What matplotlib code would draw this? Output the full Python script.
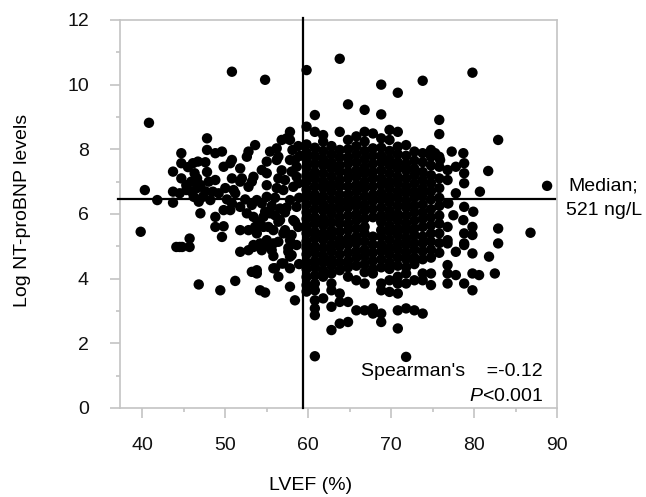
import numpy as np
import matplotlib
matplotlib.use('Agg')
import matplotlib.pyplot as plt

plt.rcParams['font.family'] = ['Liberation Sans', 'DejaVu Sans']
plt.rcParams['mathtext.fontset'] = 'custom'
plt.rcParams['mathtext.rm'] = 'Liberation Sans'
plt.rcParams['mathtext.it'] = 'Liberation Sans:italic'

# scattered patients, LVEF < 60 and the right-hand outliers
lvef_side = [39.8, 40.8, 40.3, 41.8, 50.8, 54.8,
             43.7, 43.7, 43.7, 44.7, 44.7, 44.7, 45.3, 46.1, 46.7, 46.3, 45.9, 46.6, 46.8, 45.9,
             47.8, 47.8, 47.6, 47.8, 48.0, 47.6, 48.8, 49.6, 49.8, 48.8, 48.5, 50.0, 50.8, 50.8,
             51.0, 49.8, 48.8, 49.8, 50.8,
             50.6, 51.8, 52.6, 53.6, 55.4, 56.2, 56.8, 57.4, 57.8, 58.1, 57.8, 58.4, 55.0, 54.4,
             53.4, 55.0, 51.8, 52.8, 51.2, 49.2, 48.2, 47.3, 46.2, 45.3, 44.5,
             47.0, 48.8, 50.6, 51.8, 52.6, 53.8, 55.0, 55.4, 56.6, 57.8, 57.0, 58.2, 58.6, 58.6,
             44.5, 45.7, 51.8, 52.8, 53.8, 55.0, 55.8, 54.2, 53.4,
             53.4, 54.6, 54.6, 55.8, 56.6, 57.0, 57.8, 58.2, 58.6, 58.8,
             46.8, 49.4, 51.2, 53.2, 53.8, 54.2, 54.8, 55.8, 56.4, 56.8, 57.8, 58.4, 57.8, 57.8,
             44.1, 44.8, 45.7, 51.8, 52.8, 54.7, 55.8, 49.6,
             52.0, 53.2, 55.0, 56.4, 57.2, 58.0,
             53.2, 54.4, 54.8, 56.0, 56.4, 55.2, 57.2, 58.0, 58.4, 53.6, 53.4, 54.4, 55.6, 56.4,
             57.6, 58.0, 58.6, 53.8, 56.0, 57.0, 57.8, 52.8, 56.4, 56.2,
             56.0, 57.4, 56.8, 58.8, 58.9, 59.0, 45.5, 46.6, 47.0,
             57.2, 58.8, 56.2, 55.6, 57.6, 58.9, 54.0, 52.4, 50.2,
             77.3, 78.7, 76.9, 77.5, 79.9, 78.7, 81.7, 80.7, 80.6, 81.8, 82.9, 82.9, 82.9,
             86.8, 88.8, 82.5, 79.8, 75.3, 75.9]
logbnp_side = [5.45, 8.82, 6.74, 6.43, 10.4, 10.15,
               6.69, 6.35, 7.31, 7.88, 7.57, 7.1, 6.74, 7.57, 7.62, 7.26, 7.0, 6.8, 6.38, 6.7,
               8.34, 7.98, 7.6, 7.3, 7.0, 6.7, 7.88, 7.93, 7.46, 7.05, 6.69, 6.8, 7.67, 7.1,
               6.74, 6.12, 5.91, 5.62, 6.33,
               7.57, 7.41, 7.77, 8.13, 7.93, 8.03, 8.29, 8.34, 8.54, 7.98, 7.67, 7.67, 7.62, 7.36,
               7.15, 7.26, 7.0, 6.84, 6.64, 6.64, 6.43, 6.53, 6.53, 6.89, 6.64,
               6.02, 5.6, 6.12, 6.22, 6.02, 6.43, 6.53, 6.02, 6.17, 6.43, 6.74, 6.84, 7.15, 7.46,
               4.98, 5.24, 5.5, 5.5, 5.4, 5.19, 5.09, 5.09, 5.04,
               5.91, 5.91, 5.6, 5.5, 5.81, 5.4, 5.19, 5.81, 6.22, 5.6,
               3.82, 3.64, 3.93, 4.21, 4.16, 3.64, 3.57, 4.32, 4.06, 4.47, 3.75, 3.33, 4.32, 4.68,
               4.98, 4.98, 4.98, 4.83, 4.88, 5.0, 4.7, 5.29,
               7.1, 7.0, 6.89, 7.1, 7.05, 7.31,
               6.28, 6.33, 6.07, 5.96, 5.76, 5.6, 5.5, 5.35, 5.76, 5.6, 4.98, 4.88, 4.88, 5.14,
               4.83, 4.73, 5.04, 4.26, 4.32, 4.47, 8.29, 7.93, 7.77, 7.67,
               6.5, 6.2, 7.35, 8.1, 6.5, 7.8, 7.45, 7.1, 6.9,
               6.05, 6.95, 6.8, 6.25, 4.95, 4.45, 5.75, 6.45, 6.45,
               7.93, 7.88, 6.33, 5.96, 6.07, 5.81, 7.33, 6.69, 4.11, 4.68, 8.29, 5.55, 5.09,
               5.42, 6.87, 4.16, 3.64, 7.88, 7.67]

# the dense block: LVEF columns and the NT-proBNP values stacked in each
blob_lvef = [59.8, 60.8, 61.8, 62.8, 63.8, 64.8, 65.8, 66.8, 67.8, 68.8, 69.8, 70.8,
             71.8, 72.8, 73.8, 74.8, 75.8, 76.8, 77.8, 78.8, 79.8]
blob_bnp = [
    [10.45, 8.7, 8.15, 7.9, 7.7, 7.45, 7.2, 7.0, 6.75, 6.55, 6.3, 6.05, 5.85, 5.6, 5.4, 5.15,
     4.95, 4.75, 4.5, 4.3, 4.05, 3.8, 3.6],
    [9.06, 8.54, 8.05, 7.8, 7.55, 7.3, 7.1, 6.85, 6.6, 6.4, 6.15, 5.9, 5.7, 5.45, 5.25, 5.0,
     4.8, 4.55, 4.35, 4.1, 3.85, 3.64, 3.33, 3.08, 2.87, 1.6],
    [8.44, 8.24, 7.95, 7.7, 7.5, 7.25, 7.0, 6.8, 6.55, 6.3, 6.1, 5.85, 5.65, 5.4, 5.2, 4.95,
     4.7, 4.5, 4.25, 4.06, 3.39],
    [8.1, 7.85, 7.6, 7.4, 7.15, 6.9, 6.7, 6.45, 6.2, 6.0, 5.75, 5.5, 5.3, 5.05, 4.85, 4.6,
     4.4, 4.16, 3.85, 3.64, 3.13, 2.41],
    [10.8, 8.54, 7.98, 7.75, 7.5, 7.3, 7.05, 6.85, 6.6, 6.35, 6.15, 5.9, 5.7, 5.45, 5.2, 5.0,
     4.75, 4.5, 4.26, 3.54, 3.28, 2.61],
    [9.39, 8.29, 8.0, 7.75, 7.55, 7.3, 7.1, 6.85, 6.6, 6.4, 6.2, 5.95, 5.7, 5.5, 5.25, 5.05,
     4.8, 4.55, 4.35, 4.06, 3.28, 2.66],
    [8.4, 8.1, 7.85, 7.6, 7.35, 7.15, 6.9, 6.7, 6.45, 6.25, 6.0, 5.8, 5.55, 5.3, 5.1, 4.85,
     4.65, 4.4, 3.95, 3.02],
    [9.22, 8.54, 8.24, 7.95, 7.7, 7.45, 7.25, 7.0, 6.8, 6.55, 6.3, 6.1, 5.85, 5.6, 5.4, 5.15,
     4.9, 4.7, 4.45, 4.2, 3.85, 3.02],
    [8.49, 8.03, 7.8, 7.55, 7.3, 7.1, 6.85, 6.6, 6.4, 6.15, 5.9, 5.3, 5.05, 4.8, 4.55, 4.3,
     4.16, 3.08, 2.92],
    [10.0, 9.08, 8.34, 8.05, 7.8, 7.6, 7.35, 7.1, 6.9, 6.65, 6.45, 6.2, 5.95, 5.75, 5.5, 5.3,
     5.05, 4.85, 4.6, 4.35, 3.85, 3.64, 2.92, 2.66],
    [8.6, 8.29, 7.95, 7.7, 7.5, 7.25, 7.0, 6.8, 6.55, 6.35, 6.1, 5.9, 5.65, 5.45, 5.2, 4.95,
     4.75, 4.5, 4.3, 3.95, 3.59],
    [9.75, 8.54, 8.08, 7.85, 7.6, 7.4, 7.15, 6.95, 6.7, 6.5, 6.25, 6.0, 5.8, 5.55, 5.35, 5.1,
     4.9, 4.65, 4.4, 4.06, 3.85, 3.54, 3.02, 2.46],
    [8.13, 7.8, 7.55, 7.35, 7.1, 6.85, 6.65, 6.4, 6.2, 5.95, 5.7, 5.5, 5.25, 5.05, 4.8, 4.6,
     4.35, 4.16, 3.85, 3.08, 1.58],
    [7.93, 7.65, 7.4, 7.2, 6.95, 6.7, 6.5, 6.25, 6.05, 5.8, 5.55, 5.35, 5.1, 4.9, 4.65, 4.45,
     3.95, 3.02],
    [10.12, 7.88, 7.6, 7.3, 7.05, 6.8, 6.6, 6.3, 6.05, 5.85, 5.6, 5.3, 5.1, 4.85, 4.6, 4.16,
     3.95, 2.92],
    [7.98, 7.77, 7.5, 7.2, 6.95, 6.7, 6.45, 6.15, 5.9, 5.65, 5.4, 5.15, 4.9, 4.65, 4.16, 3.8],
    [8.91, 8.47, 7.77, 7.46, 7.1, 6.8, 6.5, 6.25, 5.95, 5.7, 5.4, 5.1, 4.8],
    [7.36, 7.05, 6.33, 5.6, 5.19, 5.09, 4.42, 4.16, 3.85],
    [7.46, 6.64, 4.83, 4.11],
    [7.57, 7.26, 6.95, 6.22, 5.4, 5.09, 5.04, 3.85],
    [10.37, 5.6, 5.35, 4.78, 4.16],
]

median_lvef = 59.4
median_bnp = 6.46

x = list(lvef_side)
y = list(logbnp_side)
for xv, col in zip(blob_lvef, blob_bnp):
    for yv in col:
        x.append(xv)
        y.append(yv)

fig = plt.figure(figsize=(6.46, 4.97), dpi=100)
ax = fig.add_axes([0.1858, 0.1791, 0.6765, 0.7807])

ax.scatter(x, y, s=56, c='black', edgecolors='none', zorder=2)

ax.plot([37.1, 89.7], [median_bnp, median_bnp], color='black', lw=1.6, clip_on=False, zorder=3)
ax.plot([median_lvef, median_lvef], [0, 12.06], color='black', lw=1.6, clip_on=False, zorder=3)

ax.set_xlim(37.31, 90)
ax.set_ylim(0, 12)
ax.set_xticks([40, 50, 60, 70, 80, 90])
ax.set_xticks([45, 55, 65, 75, 85], minor=True)
ax.set_yticks([0, 2, 4, 6, 8, 10, 12])
ax.set_yticks([1, 3, 5, 7, 9, 11], minor=True)

gray = '#c4c4c4'
for s in ax.spines.values():
    s.set_color(gray)
    s.set_linewidth(1.2)
ax.tick_params(which='major', length=7, width=1.2, color=gray, labelsize=14, labelcolor='#111111')
ax.tick_params(which='minor', length=3, width=1.2, color=gray)
ax.tick_params(axis='y', which='major', pad=15.5)
ax.tick_params(axis='x', which='major', pad=14)

ax.set_xlabel('LVEF (%)', fontsize=14)
ax.set_ylabel('Log NT-proBNP levels', fontsize=14)
ax.xaxis.set_label_coords(0.437, -0.178)
ax.yaxis.set_label_coords(-0.204, 0.51)

ax.text(88.31, 1.14, "Spearman's    =-0.12", ha='right', va='center', fontsize=14)
ax.text(88.31, 0.36, r'$\mathit{P}$<0.001', ha='right', va='center', fontsize=14)

fig.text(0.9334, 0.6258, 'Median;', ha='center', va='center', fontsize=14)
fig.text(0.935, 0.5755, '521 ng/L', ha='center', va='center', fontsize=14)

fig.savefig('out.png', dpi=100)
